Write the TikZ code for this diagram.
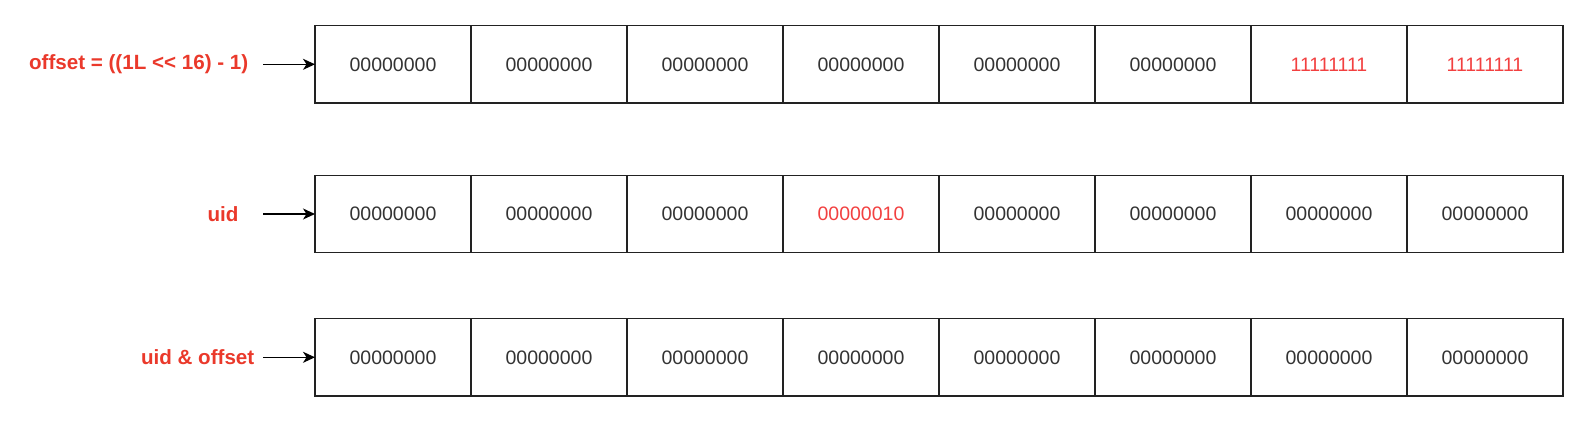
\documentclass[tikz,border=0pt]{standalone}
\usepackage{fontspec}
\setmainfont{Liberation Sans}
\usetikzlibrary{arrows.meta}
\definecolor{lblred}{RGB}{234,57,43}
\definecolor{numred}{RGB}{242,64,64}
\definecolor{numgray}{RGB}{51,51,51}
\definecolor{edge}{RGB}{34,34,34}
\tikzset{
  cell/.style={draw=edge, line width=1.3pt, minimum width=156pt, minimum height=77.5pt,
    inner sep=0pt, outer sep=0pt, font=\fontsize{19.5pt}{23pt}\selectfont, text=numgray},
  redcell/.style={cell, text=numred},
  lbl/.style={font=\bfseries\fontsize{20.6pt}{24pt}\selectfont, text=lblred, inner sep=0pt},
  arr/.style={draw=black, line width=1.3pt, -{Stealth[length=12pt,width=11pt,inset=3.5pt]}}
}
\begin{document}
\begin{tikzpicture}[x=1pt,y=1pt]
\useasboundingbox (0,0) rectangle (1596,426);
\foreach \r/\yy in {1/361.7, 2/212, 3/68.7} {
  \foreach \c in {1,...,8} {
    \pgfmathsetmacro{\xx}{315+78+(\c-1)*156}
    \coordinate (p\r\c) at (\xx,\yy);
  }
}
% row 1
\node[cell] (r1c1) at (p11) {00000000};
\node[cell] (r1c2) at (p12) {00000000};
\node[cell] (r1c3) at (p13) {00000000};
\node[cell] (r1c4) at (p14) {00000000};
\node[cell] (r1c5) at (p15) {00000000};
\node[cell] (r1c6) at (p16) {00000000};
\node[redcell] (r1c7) at (p17) {11111111};
\node[redcell] (r1c8) at (p18) {11111111};
% row 2
\node[cell] (r2c1) at (p21) {00000000};
\node[cell] (r2c2) at (p22) {00000000};
\node[cell] (r2c3) at (p23) {00000000};
\node[redcell] (r2c4) at (p24) {00000010};
\node[cell] (r2c5) at (p25) {00000000};
\node[cell] (r2c6) at (p26) {00000000};
\node[cell] (r2c7) at (p27) {00000000};
\node[cell] (r2c8) at (p28) {00000000};
% row 3
\node[cell] (r3c1) at (p31) {00000000};
\node[cell] (r3c2) at (p32) {00000000};
\node[cell] (r3c3) at (p33) {00000000};
\node[cell] (r3c4) at (p34) {00000000};
\node[cell] (r3c5) at (p35) {00000000};
\node[cell] (r3c6) at (p36) {00000000};
\node[cell] (r3c7) at (p37) {00000000};
\node[cell] (r3c8) at (p38) {00000000};
% labels
\node[lbl, anchor=east] (l1) at (248.5,361.7) {offset = ((1L {<}{<} 16) - 1)};
\node[lbl] (l2) at (223,212) {uid};
\node[lbl, anchor=east] (l3) at (254.5,68.7) {uid \& offset};
% arrow starts
\coordinate (s1) at (263,361.7);
\coordinate (s2) at (263,212);
\coordinate (s3) at (263,68.7);
\draw[arr] (s1) -- (r1c1.west);
\draw[arr] (s2) -- (r2c1.west);
\draw[arr] (s3) -- (r3c1.west);
\end{tikzpicture}
\end{document}
